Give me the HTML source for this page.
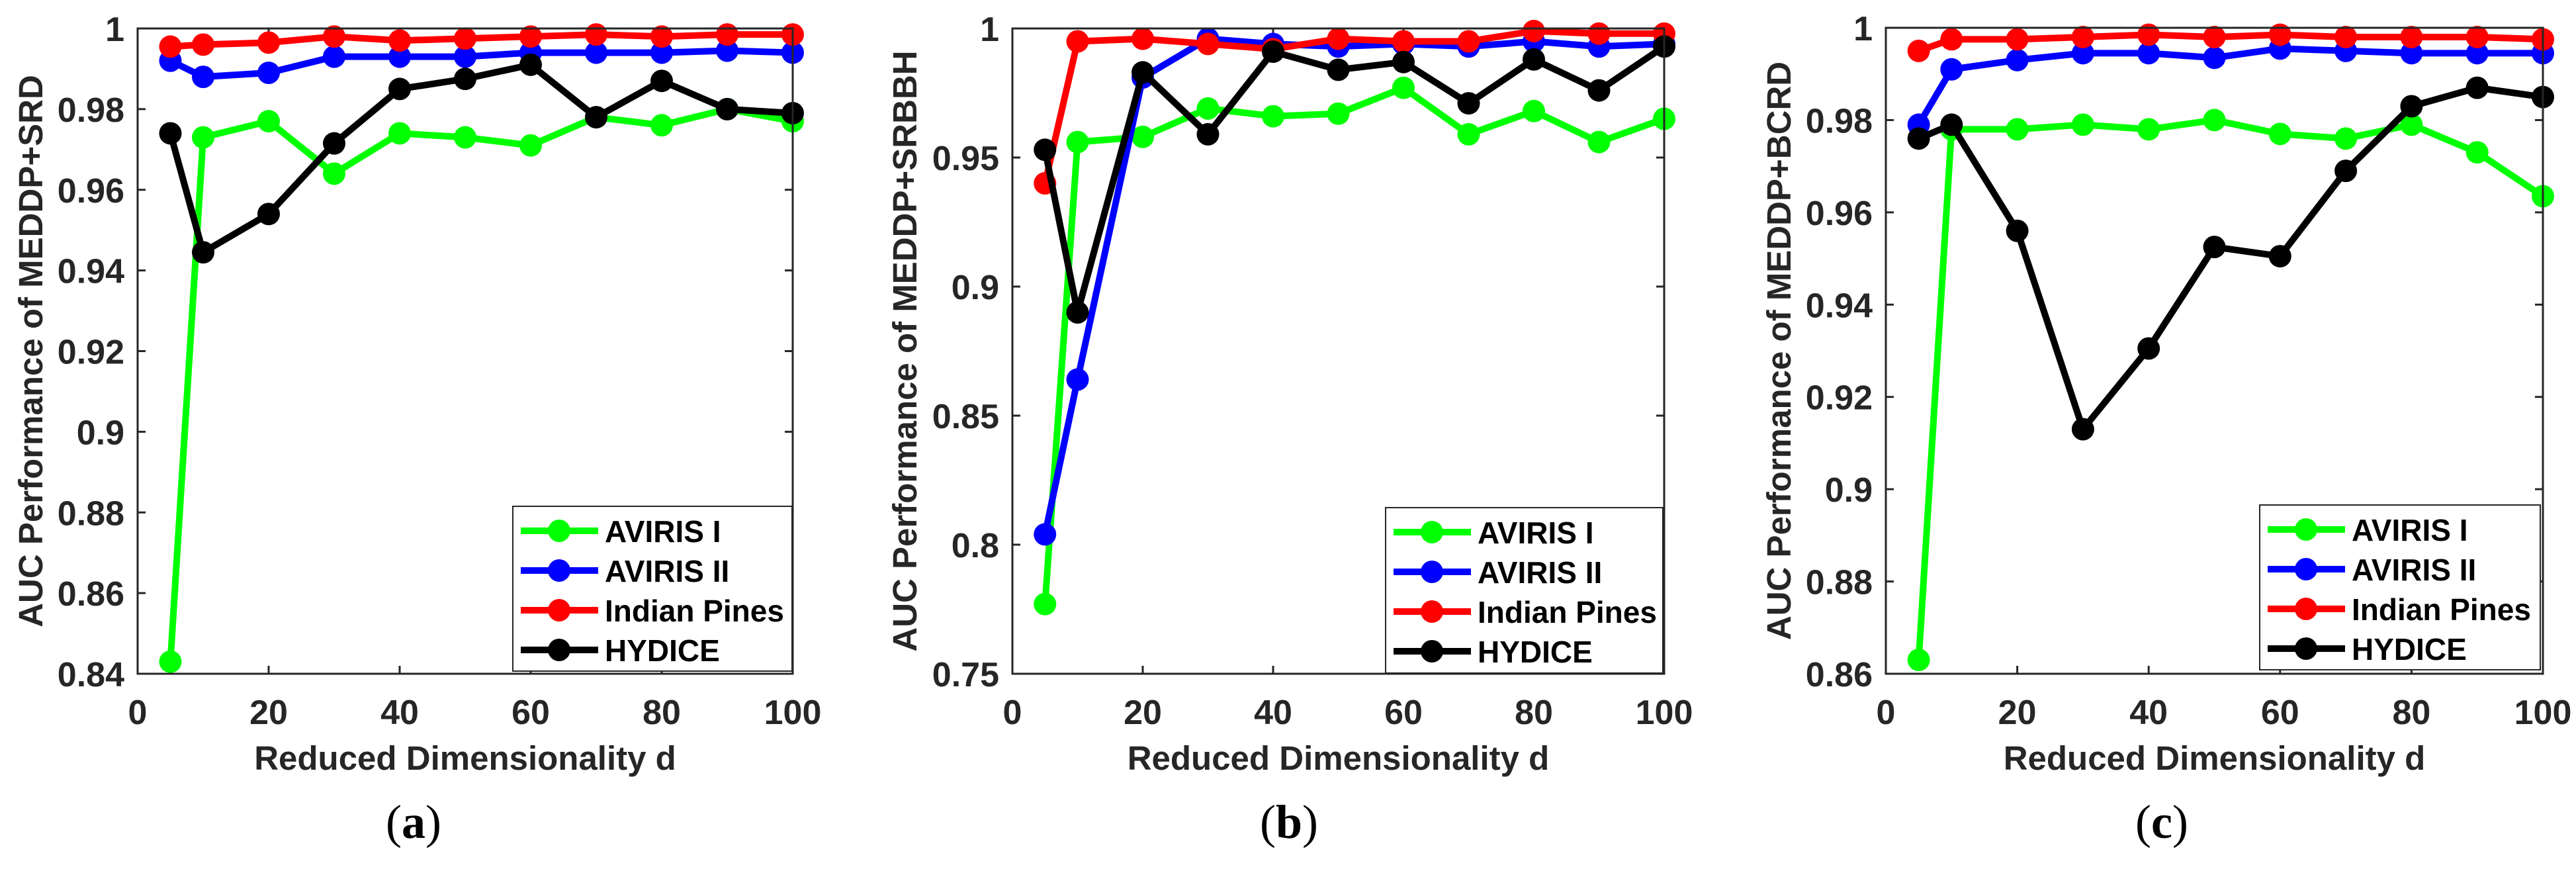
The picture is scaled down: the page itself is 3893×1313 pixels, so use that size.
<!DOCTYPE html>
<html><head><meta charset="utf-8"><style>
html,body{margin:0;padding:0;background:#fff;}
svg{display:block;}
text{font-family:"Liberation Sans",Arial,sans-serif;font-weight:bold;fill:#262626;}
.cap{font-family:"Liberation Serif",serif;font-weight:normal;fill:#000;}
</style></head><body>
<svg id="fig" width="3893" height="1313" viewBox="0 0 3893 1313" xmlns="http://www.w3.org/2000/svg"></svg>
<script>
const xs = [5,10,20,30,40,50,60,70,80,90,100];
const seriesNames = ["AVIRIS I","AVIRIS II","Indian Pines","HYDICE"];
const seriesColors = ["#00ff00","#0000ff","#ff0000","#000000"];
const xTicks = [0,20,40,60,80,100];

const aAvirisI  = [0.843,0.973,0.977,0.964,0.974,0.973,0.971,0.978,0.976,0.980,0.977];
const aAvirisII = [0.992,0.988,0.989,0.993,0.993,0.993,0.994,0.994,0.994,0.9945,0.994];
const aIndian   = [0.9955,0.996,0.9965,0.998,0.997,0.9975,0.998,0.9985,0.998,0.9985,0.9985];
const aHydice   = [0.974,0.9445,0.954,0.9715,0.985,0.9875,0.991,0.978,0.987,0.980,0.979];
const aYTicks = [0.84,0.86,0.88,0.9,0.92,0.94,0.96,0.98,1];
const aYLabels = ["0.84","0.86","0.88","0.9","0.92","0.94","0.96","0.98","1"];

const bAvirisI  = [0.777,0.956,0.958,0.969,0.966,0.967,0.977,0.959,0.968,0.956,0.965];
const bAvirisII = [0.804,0.864,0.981,0.996,0.994,0.993,0.994,0.993,0.995,0.993,0.994];
const bIndian   = [0.940,0.995,0.996,0.994,0.992,0.996,0.995,0.995,0.999,0.998,0.998];
const bHydice   = [0.953,0.890,0.983,0.959,0.991,0.984,0.987,0.971,0.988,0.976,0.993];
const bYTicks = [0.75,0.8,0.85,0.9,0.95,1];
const bYLabels = ["0.75","0.8","0.85","0.9","0.95","1"];

const cAvirisI  = [0.863,0.978,0.978,0.979,0.978,0.980,0.977,0.976,0.979,0.973,0.9635];
const cAvirisII = [0.979,0.991,0.993,0.9945,0.9945,0.9935,0.9955,0.995,0.9945,0.9945,0.9945];
const cIndian   = [0.995,0.9975,0.9975,0.998,0.9985,0.998,0.9985,0.998,0.998,0.998,0.9975];
const cHydice   = [0.976,0.979,0.956,0.913,0.9305,0.9525,0.9505,0.969,0.983,0.987,0.985];
const cYTicks = [0.86,0.88,0.9,0.92,0.94,0.96,0.98,1];
const cYLabels = ["0.86","0.88","0.9","0.92","0.94","0.96","0.98","1"];

const NS = "http://www.w3.org/2000/svg";
const svg = document.getElementById("fig");
function mk(tag, attrs, parent){
  const e = document.createElementNS(NS, tag);
  for (const k in attrs) e.setAttribute(k, attrs[k]);
  parent.appendChild(e);
  return e;
}

function panel(id, L, R, T, B, ymin, ymax, yTicks, yLabels, data, ylab, ylabX, leg, capX, capLetter){
  const g = mk("g", {}, svg);
  
  
  const sx = v => L + (v - 0) / 100 * (R - L);
  const sy = v => B - (v - ymin) / (ymax - ymin) * (B - T);
  xTicks.forEach((t, i) => {
    const x = sx(t);
    mk("line", {x1:x, y1:B, x2:x, y2:B-12, stroke:"#262626", "stroke-width":3}, g);
    mk("line", {x1:x, y1:T, x2:x, y2:T+12, stroke:"#262626", "stroke-width":3}, g);
    const tx = mk("text", {x:x, y:B+76, "text-anchor":"middle", "font-size":52}, g);
    tx.textContent = t;
    
    
  });
  yTicks.forEach((t, i) => {
    const y = sy(t);
    mk("line", {x1:L, y1:y, x2:L+12, y2:y, stroke:"#262626", "stroke-width":3}, g);
    mk("line", {x1:R, y1:y, x2:R-12, y2:y, stroke:"#262626", "stroke-width":3}, g);
    const tx = mk("text", {x:L-20, y:y+19, "text-anchor":"end", "font-size":52}, g);
    tx.textContent = yLabels[i];
    
    
  });
  data.forEach((vals, si) => {
    const sg = mk("g", {}, g);
    
    
    const pts = xs.map((x, i) => sx(x) + "," + sy(vals[i])).join(" ");
    mk("polyline", {points:pts, fill:"none", stroke:seriesColors[si], "stroke-width":10, "stroke-linejoin":"round"}, sg);
    xs.forEach((x, i) => {
      const c = mk("circle", {cx:sx(x), cy:sy(vals[i]), r:17, fill:seriesColors[si]}, sg);
      
      
    });
  });
  const box = mk("rect", {x:L, y:T, width:R-L, height:B-T, fill:"none", stroke:"#262626", "stroke-width":3}, g);
  
  
  const lg = mk("g", {}, g);
  
  
  mk("rect", {x:leg[0], y:leg[1], width:leg[2]-leg[0], height:leg[3]-leg[1], fill:"#fff", stroke:"#262626", "stroke-width":2}, lg);
  seriesNames.forEach((n, si) => {
    const y = leg[1] + 37 + si * 60;
    const e = mk("g", {}, lg);
    
    
    mk("line", {x1:leg[0]+12, y1:y, x2:leg[0]+129, y2:y, stroke:seriesColors[si], "stroke-width":10}, e);
    mk("circle", {cx:leg[0]+70, cy:y, r:17, fill:seriesColors[si]}, e);
    const t = mk("text", {x:leg[0]+139, y:y+17, "font-size":46}, e);
    t.textContent = n;
    t.setAttribute('style', 'fill:#000');
  });
  const xl = mk("text", {x:(L+R)/2, y:B+145, "text-anchor":"middle", "font-size":51}, g);
  xl.textContent = "Reduced Dimensionality d";
  
  
  const yl = mk("text", {x:0, y:0, "text-anchor":"middle", "font-size":51, transform:"translate(" + (ylabX+18) + "," + ((T+B)/2) + ") rotate(-90)"}, g);
  yl.textContent = ylab;
  
  
  const cp = mk("text", {x:capX, y:1266, "text-anchor":"middle", "font-size":72, "class":"cap"}, g);
  cp.innerHTML = '(<tspan font-weight="bold">' + capLetter + '</tspan>)';
  
  
}

panel("a", 208, 1198, 43, 1018, 0.84, 1, aYTicks, aYLabels, [aAvirisI,aAvirisII,aIndian,aHydice],
  "AUC Performance of MEDDP+SRD", 46, [775,765,1197,1014], 625, "a");
panel("b", 1530, 2515, 43, 1018, 0.75, 1, bYTicks, bYLabels, [bAvirisI,bAvirisII,bIndian,bHydice],
  "AUC Performance of MEDDP+SRBBH", 1367, [2094,767,2513,1017], 1948, "b");
panel("c", 2850, 3843, 42, 1018, 0.86, 1, cYTicks, cYLabels, [cAvirisI,cAvirisII,cIndian,cHydice],
  "AUC Performance of MEDDP+BCRD", 2688, [3415,763,3839,1012], 3267, "c");
</script>
</body></html>
